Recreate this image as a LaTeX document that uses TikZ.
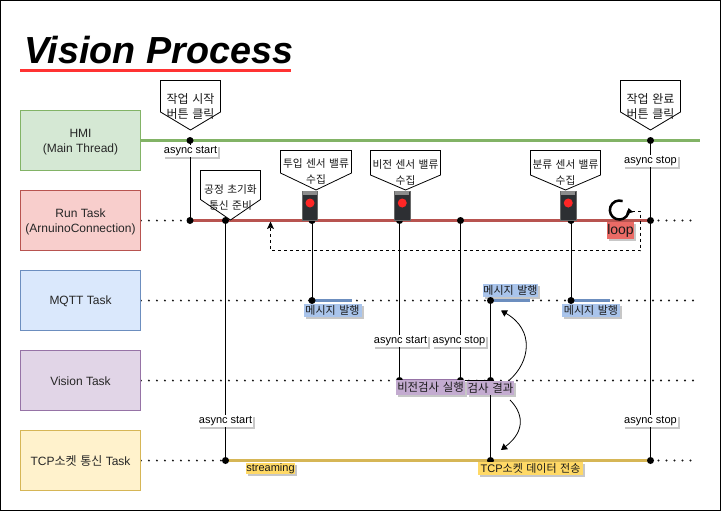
\documentclass[tikz,border=0pt]{standalone}
\usepackage{fontspec}
\setmainfont{Liberation Sans}
\newfontfamily\kofont[WordSpace=1.4]{Noto Sans CJK KR}
\usetikzlibrary{arrows.meta,shadows,backgrounds}
\definecolor{gF}{HTML}{D5E8D4}\definecolor{gD}{HTML}{82B366}
\definecolor{rF}{HTML}{F8CECC}\definecolor{rD}{HTML}{B85450}
\definecolor{bF}{HTML}{DAE8FC}\definecolor{bD}{HTML}{6C8EBF}
\definecolor{pF}{HTML}{E1D5E7}\definecolor{pD}{HTML}{9673A6}
\definecolor{yF}{HTML}{FFF2CC}\definecolor{yD}{HTML}{D6B656}
\definecolor{bL}{HTML}{A9C4EB}\definecolor{pL}{HTML}{C3ABD0}\definecolor{yL}{HTML}{FFD966}
\definecolor{lL}{HTML}{EA6B66}\definecolor{titleRed}{HTML}{FF3333}
\definecolor{sensorBody}{HTML}{2D2F33}\definecolor{sensorEdge}{HTML}{6A6A6A}
\newcommand{\ko}[1]{{\kofont #1}}
\newcommand{\fsz}[1]{\fontsize{#1}{#1}\selectfont}
\newcommand{\topstrut}[1]{\rule{0pt}{#1pt}}
\tikzset{
  softshadow/.style={drop shadow={shadow xshift=2pt,shadow yshift=-2pt,opacity=.22,fill=black}},
  taskbox/.style={draw=#1D,fill=#1F,line width=.9pt,minimum width=120pt,minimum height=60pt,inner sep=0pt,align=center,font=\fsz{12},text=black!85,anchor=center},
  evdot/.style={circle,fill=black,draw=none,minimum size=7pt,inner sep=0pt},
  asynclabel/.style={fill=white,softshadow,font=\fsz{11},inner sep=1pt,text=black,minimum height=11pt},
  taglabel/.style={fill=#1,softshadow,font=\fsz{11},inner sep=0pt,text=black!90,minimum height=13pt},
  calloutshape/.style={draw=black,fill=white,line width=.8pt},
  callouttext/.style={font=\fsz{11},align=center,inner sep=0pt,text=black!90},
  wire/.style={draw=black,line width=1pt},
  dots/.style={line width=2.1pt,line cap=round,dash pattern=on 0pt off 8pt,draw=black!90},
  curvearrow/.style={draw=black,line width=.8pt,-{Triangle[length=6pt,width=7pt]}},
}
\newcommand{\callout}[8]{% name,x0,x1,ytop,yshoulder,ytip,textsize,text
  \coordinate (#1nw) at (#2,#4);
  \draw[calloutshape] (#2,#4) -- (#3,#4) -- (#3,#5) -- ({(#2+#3)/2},#6) -- (#2,#5) -- cycle;
  \node[callouttext,font=\fsz{#7},text depth=0pt] (#1) at ({(#2+#3)/2},{#4+(#5-#4)*0.5+9.5}) {#8};
}
\newcommand{\sensorbox}[3]{% name,x0,x1
  \node[draw=sensorEdge,fill=sensorBody,line width=1pt,minimum width=#3pt-#2pt,minimum height=29pt,inner sep=0pt] (#1) at ({(#2+#3)/2},205.5) {};
  \fill[black!45] (#2+.7,191) rectangle (#3-.7,194.5);
  \node[circle,fill=red!85!white,minimum size=9pt,inner sep=0pt] (#1led) at ({(#2+#3)/2},203) {};
}
\begin{document}
\begin{tikzpicture}[x=1pt,y=-1pt]
\useasboundingbox (0,0) rectangle (722,512);
\draw[black,line width=1.4pt] (.5,.5) rectangle (720.5,510.5);

% title
\node[anchor=base west,inner sep=0pt,font=\fsz{37.7}\bfseries\itshape] (title) at (24,63) {Vision Process};
\coordinate (ulA) at (20,70.5);\coordinate (ulB) at (291,70.5);
\draw[titleRed,line width=2.6pt] (ulA) -- (ulB);

% task boxes
\node[taskbox=g] (hmi) at (80.5,140.5) {\topstrut{11.5}HMI\\[3pt](Main Thread)};
\node[taskbox=r] (run) at (80.5,220.5) {\topstrut{11.5}Run Task\\[3pt](ArnuinoConnection)};
\node[taskbox=b] (mq)  at (80.5,300.5) {\topstrut{10}MQTT Task};
\node[taskbox=p] (vis) at (80.5,380.5) {\topstrut{10}Vision Task};
\node[taskbox=y] (tcp) at (80.5,460.5) {\topstrut{10}TCP\ko{소켓 통신} Task};

% event dots
\foreach \n/\x/\y in {a/190/140.5,b/190/220.5,c/225.5/220.5,d/312/220.5,e/399.5/220.5,f/460.5/220.5,g/571/220.5,
  h/650.5/140.5,i/650.5/220.5,j/225.5/460.5,k/650.5/460.5,l/399.5/380.5,m/460.5/380.5,n/490.5/380.5,
  o/312/300.5,p/490.5/300.5,q/571/300.5,r/490.5/460.5}
  \node[evdot] (\n) at (\x,\y) {};

\coordinate (hmiEnd) at (700,140.5);
\coordinate (runEnd) at (695,220.5);
\coordinate (mqEnd) at (695,300.5);
\coordinate (visEnd) at (695,380.5);
\coordinate (tcpEnd) at (695,460.5);
\coordinate (blA) at (352,300.5);\coordinate (blB) at (530,300.5);\coordinate (blC) at (610,300.5);

\begin{scope}[on background layer]
  \draw[dots] (run.east) -- (b.center);
  \draw[dots] (i.center) -- (runEnd);
  \draw[dots] (mq.east) -- (mqEnd);
  \draw[dots] (vis.east) -- (visEnd);
  \draw[dots] (tcp.east) -- (j.center);
  \draw[dots] (k.center) -- (tcpEnd);
  \draw[wire] (a.center) -- (b.center);
  \draw[wire] (c.center) -- (j.center);
  \draw[wire] (d.center) -- (o.center);
  \draw[wire] (e.center) -- (l.center);
  \draw[wire] (f.center) -- (m.center);
  \draw[wire] (g.center) -- (q.center);
  \draw[wire] (p.center) -- (r.center);
  \draw[wire] (h.center) -- (k.center);
  \draw[gD,line width=2.6pt] (hmi.east) -- (hmiEnd);
  \draw[rD,line width=2.6pt] (b.center) -- (i.center);
  \draw[yD,line width=2.6pt] (j.center) -- (k.center);
  \draw[bD,line width=2.6pt] (o.center) -- (blA);
  \draw[bD,line width=2.6pt] (p.center) -- (blB);
  \draw[bD,line width=2.6pt] (q.center) -- (blC);
  \draw[pD,line width=2.6pt] (l.center) -- (m.center);
  \draw[black,line width=1.6pt] (m.center) -- (n.center);
\end{scope}

% callouts
\callout{c1}{160.5}{220.5}{80.5}{112}{130}{12}{\ko{작업 시작}\\[3pt]\ko{버튼 클릭}}
\callout{c2}{620.5}{680.5}{80.5}{112}{130}{12}{\ko{작업 완료}\\[3pt]\ko{버튼 클릭}}
\callout{c3}{200.5}{260.5}{170.5}{199.5}{220}{10.7}{\topstrut{14}\ko{공정 초기화}\\[5pt]\ko{통신 준비}}
\callout{c4}{280.5}{351.5}{150.5}{173}{190}{10.7}{\ko{투입 센서 밸류}\\[5pt]\ko{수집}}
\callout{c5}{370.5}{440.5}{150.5}{175}{190}{10.7}{\ko{비전 센서 밸류}\\[5pt]\ko{수집}}
\callout{c6}{530.5}{600.5}{150.5}{175}{190}{10.7}{\ko{분류 센서 밸류}\\[5pt]\ko{수집}}

% sensors
\sensorbox{s1}{302.5}{317.5}
\sensorbox{s2}{394.5}{410}
\sensorbox{s3}{560.5}{576}

% async labels
\node[asynclabel] (as1) at (190.5,151) {async start};
\node[asynclabel] (as2) at (650.5,161) {async stop};
\node[asynclabel] (as3) at (225.5,421) {async start};
\node[asynclabel] (as4) at (400.5,341) {async start};
\node[asynclabel] (as5) at (459,341) {async stop};
\node[asynclabel] (as6) at (650.5,421) {async stop};

% coloured tags
\node[taglabel=bL,minimum width=58pt] (t1) at (332.5,310) {\ko{메시지 발행}};
\node[taglabel=bL,minimum width=53pt] (t2) at (510.5,290.5) {\ko{메시지 발행}};
\node[taglabel=bL,minimum width=58pt] (t3) at (591,310.5) {\ko{메시지 발행}};
\node[taglabel=pL,minimum width=69.5pt,minimum height=15pt,font=\fsz{11.4}] (t4) at (430.5,387.5) {\ko{비전검사 실행}};
\node[taglabel=pL,minimum width=47pt,minimum height=14pt,font=\fsz{11.4}] (t5) at (490.5,388) {\ko{검사 결과}};
\node[taglabel=yL,minimum width=105pt,minimum height=13pt] (t6) at (530.5,468.5) {TCP\ko{소켓 데이터 전송}};
\node[taglabel=yL,minimum width=49pt,minimum height=11.5pt] (t7) at (270.5,468.5) {streaming};
\node[taglabel=lL,minimum width=27pt,minimum height=17pt,font=\fsz{14}] (t8) at (620.5,230.5) {loop};

% loop icon
\coordinate (loopStart) at (622.6,201.1);
\draw[black,line width=2.5pt,-{Triangle[length=5pt,width=7pt]}] (loopStart) arc[start angle=70,end angle=372,radius=9.5pt];

% loop-back dashed connector
\coordinate (lp1) at (632,211);\coordinate (lp2) at (640.5,211);\coordinate (lp3) at (640.5,250.5);
\coordinate (lp4) at (270.5,250.5);\coordinate (lp5) at (270.5,221.5);
\draw[black,line width=.8pt,dash pattern=on 3pt off 3pt] (lp1) -- (lp2) -- (lp3) -- (lp4) -- (lp5);
\fill[black] (lp5) -- (267,229) -- (270.5,227.5) -- (274,229) -- cycle;

% curved arrows
\coordinate (ca1) at (509.5,380);\coordinate (ca2) at (501,310.5);
\coordinate (cb1) at (510,400);\coordinate (cb2) at (501,450);
\draw[curvearrow] (ca1) .. controls (530,362) and (535,330) .. (ca2);
\draw[curvearrow] (cb1) .. controls (522,412) and (527,430) .. (cb2);
\end{tikzpicture}
\end{document}
